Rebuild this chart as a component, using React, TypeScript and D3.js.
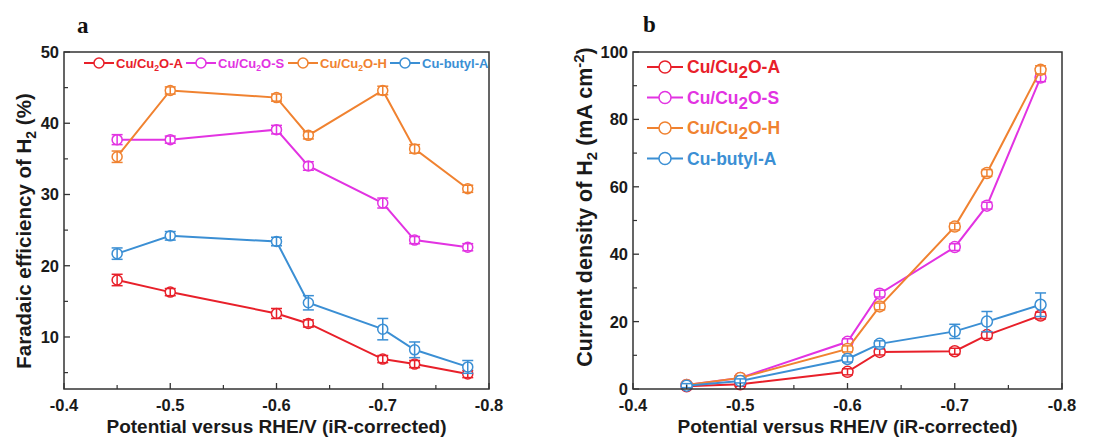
import React from "react";
import * as d3 from "d3";

// Applied potentials (V vs RHE, iR-corrected)
const potentials = [-0.45, -0.5, -0.6, -0.63, -0.7, -0.73, -0.78];

// Sample names, split as [prefix, subscript, suffix]
const sampleLabels: [string, string, string][] = [
  ["Cu/Cu", "2", "O-A"],
  ["Cu/Cu", "2", "O-S"],
  ["Cu/Cu", "2", "O-H"],
  ["Cu-butyl-A", "", ""],
];
const sampleColors = ["#e8202a", "#e233e2", "#f08230", "#3b8fd4"];

// Faradaic efficiency of H2 (%)
const feCuA = [18.0, 16.3, 13.3, 11.9, 6.9, 6.2, 4.8];
const feCuS = [37.7, 37.7, 39.1, 34.0, 28.8, 23.6, 22.6];
const feCuH = [35.3, 44.6, 43.6, 38.3, 44.6, 36.4, 30.8];
const feButyl = [21.7, 24.2, 23.4, 14.8, 11.1, 8.2, 5.8];
const feErrCuA = [0.8, 0.5, 0.7, 0.5, 0.5, 0.5, 0.5];
const feErrCuS = [0.7, 0.5, 0.6, 0.6, 0.7, 0.5, 0.5];
const feErrCuH = [0.8, 0.5, 0.5, 0.5, 0.6, 0.6, 0.5];
const feErrButyl = [0.8, 0.6, 0.6, 1.0, 1.5, 1.1, 0.9];

// H2 partial current density (mA cm-2)
const jCuA = [0.8, 1.4, 5.1, 11.0, 11.2, 16.0, 21.8];
const jCuS = [1.2, 3.3, 14.0, 28.3, 42.1, 54.4, 92.4];
const jCuH = [1.2, 3.3, 11.9, 24.5, 48.2, 64.1, 94.7];
const jButyl = [1.0, 2.4, 8.9, 13.4, 17.1, 20.0, 25.0];
const jErrCuA = [0.6, 0.6, 0.9, 0.9, 0.9, 1.0, 1.0];
const jErrCuS = [0.6, 0.6, 0.9, 1.0, 1.0, 1.0, 1.2];
const jErrCuH = [0.6, 0.6, 0.9, 1.0, 1.0, 1.0, 1.2];
const jErrButyl = [0.6, 0.6, 0.9, 0.9, 2.1, 3.0, 3.5];

const xTicks = [-0.4, -0.5, -0.6, -0.7, -0.8];
const xMinorTicks = [-0.45, -0.55, -0.65, -0.75];
const feTicks = [10, 20, 30, 40, 50];
const feMinorTicks = [5, 15, 25, 35, 45];
const jTicks = [0, 20, 40, 60, 80, 100];
const jMinorTicks = [10, 30, 50, 70, 90];

const SANS = "'Liberation Sans', Arial, Helvetica, sans-serif";
const SERIF = "'Liberation Serif', 'Times New Roman', serif";
const AXIS_COLOR = "#333";
const TEXT_COLOR = "#1a1a1a";

// tick labels use a plain hyphen for the minus sign
const fmtPotential = (v: number) => d3.format(".1f")(v).replace("\u2212", "-");

type PanelProps = {
  left: number;
  right: number;
  top: number;
  bottom: number;
  yDomain: [number, number];
  yTicks: number[];
  yMinor: number[];
  values: number[][];
  errors: number[][];
  radius: number;
};

function Panel(p: PanelProps) {
  const x = d3.scaleLinear().domain([-0.4, -0.8]).range([p.left, p.right]);
  const y = d3.scaleLinear().domain(p.yDomain).range([p.bottom, p.top]);
  const line = d3
    .line<number>()
    .x((_, i) => x(potentials[i]))
    .y((d) => y(d));
  const cap = 5.5;
  return (
    <g>
      {/* connecting lines, markers and error bars for each sample */}
      {p.values.map((vals, s) => (
        <g key={s} stroke={sampleColors[s]} strokeWidth={2}>
          <path d={line(vals) || ""} fill="none" />
          {vals.map((v, i) => {
            const cx = x(potentials[i]);
            const cy = y(v);
            const e = p.errors[s][i];
            const y1 = y(v + e);
            const y2 = y(v - e);
            return (
              <g key={i}>
                <circle cx={cx} cy={cy} r={p.radius} fill="#fff" strokeWidth={1.5} />
                <line x1={cx} x2={cx} y1={y1} y2={y2} strokeWidth={1.5} />
                <line x1={cx - cap} x2={cx + cap} y1={y1} y2={y1} strokeWidth={1.5} />
                <line x1={cx - cap} x2={cx + cap} y1={y2} y2={y2} strokeWidth={1.5} />
              </g>
            );
          })}
        </g>
      ))}
      {/* frame */}
      <rect
        x={p.left}
        y={p.top}
        width={p.right - p.left}
        height={p.bottom - p.top}
        fill="none"
        stroke={AXIS_COLOR}
        strokeWidth={1.5}
      />
      {/* x ticks */}
      {xTicks.map((t) => (
        <g key={"xt" + t}>
          <line x1={x(t)} x2={x(t)} y1={p.bottom} y2={p.bottom - 6} stroke={AXIS_COLOR} strokeWidth={1.3} />
          <text
            x={x(t)}
            y={p.bottom + 22}
            textAnchor="middle"
            fontFamily={SANS}
            fontWeight="bold"
            fontSize={16.5}
            fill={TEXT_COLOR}
          >
            {fmtPotential(t)}
          </text>
        </g>
      ))}
      {xMinorTicks.map((t) => (
        <line key={"xm" + t} x1={x(t)} x2={x(t)} y1={p.bottom} y2={p.bottom - 4} stroke={AXIS_COLOR} strokeWidth={1.2} />
      ))}
      {/* y ticks */}
      {p.yTicks.map((t) => (
        <g key={"yt" + t}>
          <line x1={p.left} x2={p.left + 6} y1={y(t)} y2={y(t)} stroke={AXIS_COLOR} strokeWidth={1.3} />
          <text
            x={p.left - 5}
            y={y(t)}
            dy="0.36em"
            textAnchor="end"
            fontFamily={SANS}
            fontWeight="bold"
            fontSize={16.5}
            fill={TEXT_COLOR}
          >
            {t}
          </text>
        </g>
      ))}
      {p.yMinor.map((t) => (
        <line key={"ym" + t} x1={p.left} x2={p.left + 4} y1={y(t)} y2={y(t)} stroke={AXIS_COLOR} strokeWidth={1.2} />
      ))}
      {/* x axis title */}
      <text
        x={(p.left + p.right) / 2}
        y={433}
        textAnchor="middle"
        fontFamily={SANS}
        fontWeight="bold"
        fontSize={19}
        fill={TEXT_COLOR}
      >
        Potential versus RHE/V (iR-corrected)
      </text>
    </g>
  );
}

function LegendMarker({ x, y, color, half, r }: { x: number; y: number; color: string; half: number; r: number }) {
  return (
    <g stroke={color} strokeWidth={2}>
      <line x1={x - half} x2={x + half} y1={y} y2={y} />
      <circle cx={x} cy={y} r={r} fill="#fff" strokeWidth={1.5} />
    </g>
  );
}

export default function App() {
  return (
    <svg
      width={1116}
      height={442}
      viewBox="0 0 1116 442"
      style={{ position: "absolute", left: 0, top: 0, background: "#fff" }}
    >
      <rect width={1116} height={442} fill="#fff" />

      {/* Panel a: Faradaic efficiency */}
      <text x={77} y={33} fontFamily={SERIF} fontWeight="bold" fontSize={23} fill="#111">
        a
      </text>
      <Panel
        left={64}
        right={489}
        top={52}
        bottom={389}
        yDomain={[2.7, 50]}
        yTicks={feTicks}
        yMinor={feMinorTicks}
        values={[feCuA, feCuS, feCuH, feButyl]}
        errors={[feErrCuA, feErrCuS, feErrCuH, feErrButyl]}
        radius={5}
      />
      <text
        transform="translate(31,231) rotate(-90)"
        textAnchor="middle"
        fontFamily={SANS}
        fontWeight="bold"
        fontSize={20.5}
        fill={TEXT_COLOR}
      >
        Faradaic efficiency of H<tspan dy={5} fontSize={14}>2</tspan>
        <tspan dy={-5}> (%)</tspan>
      </text>
      {sampleLabels.map((lab, i) => {
        const x0 = 84 + i * 102;
        return (
          <g key={"la" + i}>
            <LegendMarker x={x0 + 15} y={63} color={sampleColors[i]} half={15} r={5} />
            <text x={x0 + 32} y={67.5} fontFamily={SANS} fontWeight="bold" fontSize={13} fill={sampleColors[i]}>
              {lab[0]}
              {lab[1] && (
                <tspan dy={3} fontSize={8.5}>
                  {lab[1]}
                </tspan>
              )}
              {lab[2] && <tspan dy={-3}>{lab[2]}</tspan>}
            </text>
          </g>
        );
      })}

      {/* Panel b: H2 partial current density */}
      <text x={643} y={32} fontFamily={SERIF} fontWeight="bold" fontSize={23} fill="#111">
        b
      </text>
      <Panel
        left={633}
        right={1062}
        top={52}
        bottom={389}
        yDomain={[0, 100]}
        yTicks={jTicks}
        yMinor={jMinorTicks}
        values={[jCuA, jCuS, jCuH, jButyl]}
        errors={[jErrCuA, jErrCuS, jErrCuH, jErrButyl]}
        radius={5.5}
      />
      <text
        transform="translate(592,207) rotate(-90)"
        textAnchor="middle"
        fontFamily={SANS}
        fontWeight="bold"
        fontSize={21.5}
        fill={TEXT_COLOR}
      >
        Current density of H<tspan dy={5} fontSize={15}>2</tspan>
        <tspan dy={-5}> (mA cm</tspan>
        <tspan dy={-8} fontSize={15}>-2</tspan>
        <tspan dy={8}>)</tspan>
      </text>
      {sampleLabels.map((lab, i) => {
        const yRow = 67 + i * 30.5;
        return (
          <g key={"lb" + i}>
            <LegendMarker x={665} y={yRow} color={sampleColors[i]} half={18} r={6} />
            <text x={687} y={yRow + 6} fontFamily={SANS} fontWeight="bold" fontSize={17.5} fill={sampleColors[i]}>
              {lab[0]}
              {lab[1] && (
                <tspan dy={5} fontSize={17}>
                  {lab[1]}
                </tspan>
              )}
              {lab[2] && <tspan dy={-5}>{lab[2]}</tspan>}
            </text>
          </g>
        );
      })}
    </svg>
  );
}
